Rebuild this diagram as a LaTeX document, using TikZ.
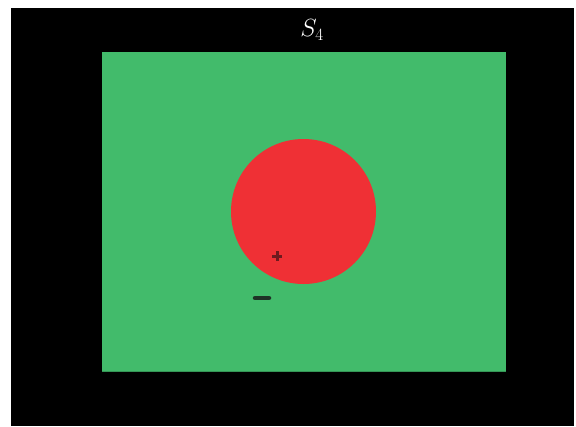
\documentclass[tikz,border=0pt]{standalone}
\begin{document}
\begin{tikzpicture}[x=1pt,y=-1pt,
  signstroke/.style={line width=3.5pt,line cap=round}]
\definecolor{bggreen}{HTML}{42BB6B}
\definecolor{dotred}{HTML}{EF3035}
\definecolor{plusc}{HTML}{6E1A1E}
\definecolor{minusc}{HTML}{1E3326}
\useasboundingbox (0,0) rectangle (576,426);
\fill[black] (11,8) rectangle (574,426);
\node[fill=bggreen,minimum width=404pt,minimum height=319pt,inner sep=0pt,anchor=north west] (plane) at (102,52) {};
\draw[bggreen!80!black,line width=1pt] (plane.south west) -- (plane.south east);
\node[circle,fill=dotred,minimum size=145pt,inner sep=0pt] (disk) at (303.5,211.5) {};
\node[text=white,font=\fontsize{25}{30}\selectfont] (lbl) at (312,30) {$S_4$};
\coordinate (pc) at (277,256);
\draw[plusc,line width=3pt] ([xshift=-5pt]pc) -- ([xshift=5pt]pc);
\draw[plusc,line width=3pt] ([yshift=-5pt]pc) -- ([yshift=5pt]pc);
\coordinate (ma) at (255,298);
\coordinate (mb) at (269,298);
\draw[minusc,signstroke,line width=4.5pt] (ma) -- (mb);
\end{tikzpicture}
\end{document}
